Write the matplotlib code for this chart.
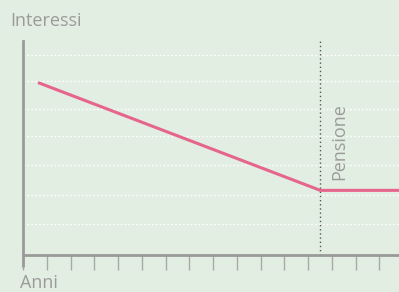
import matplotlib
matplotlib.use("Agg")
import matplotlib.pyplot as plt

# Data (x in tick units/years, y in interest units)
years = [0.63, 12.52, 15.83]
interest = [6.03, 2.26, 2.26]
pension_year = 12.52
grid_levels = [1.1, 2.1, 3.15, 4.15, 5.1, 6.1, 7.0]
x_ticks = list(range(16))
y_label = "Interessi"
x_label = "Anni"
pension_label = "Pensione"

BG = "#e2eee2"
AXC = "#9a9a9a"
TXT = "#9b9b9b"
PINK = "#e6658c"

W, H = 399, 292
fig = plt.figure(figsize=(W / 100, H / 100), dpi=100, facecolor=BG)
left_px, right_px, top_px, bottom_px = 23, 399, 39, 255
ax = fig.add_axes([left_px / W, 1 - bottom_px / H,
                   (right_px - left_px) / W, (bottom_px - top_px) / H])
ax.set_facecolor(BG)
unit_x = 23.75
unit_y = 28.6
ax.set_xlim(0, (right_px - left_px) / unit_x)
ax.set_ylim(0, (bottom_px - top_px) / unit_y)

for g in grid_levels:
    ax.axhline(g, color="white", lw=1.0, ls=(0, (1.2, 1.6)), zorder=1)

ax.plot(years, interest, color=PINK, lw=2.2, solid_capstyle="butt", zorder=3)
ax.axvline(pension_year, color="#555555", lw=1.0, ls=(0, (1, 2)), zorder=2)

ax.text(12.95, 2.62, pension_label, rotation=90, ha="left", va="bottom",
        color=TXT, fontsize=13, family="Open Sans")

for s in ["top", "right"]:
    ax.spines[s].set_visible(False)
for s in ["left", "bottom"]:
    ax.spines[s].set_color(AXC)
    ax.spines[s].set_linewidth(2.0)
ax.spines["left"].set_bounds(0, (bottom_px - 41) / unit_y)

ax.set_xticks(x_ticks)
ax.set_xticklabels([])
ax.set_yticks([])
ax.tick_params(axis="x", direction="out", length=11, width=1.0, color="#a8a8a8")
# extend y-axis below x-axis
ax.plot([0, 0], [0, -11.5 / unit_y], color=AXC, lw=2.0, clip_on=False,
        solid_capstyle="butt", zorder=4)

fig.text(10.5 / W, 1 - 26 / H, y_label, color=TXT, fontsize=13,
         family="Open Sans", va="baseline", ha="left")
fig.text(19.5 / W, 1 - 288.5 / H, x_label, color=TXT, fontsize=13,
         family="Open Sans", va="baseline", ha="left")

fig.savefig("out.png", dpi=100, facecolor=BG)
